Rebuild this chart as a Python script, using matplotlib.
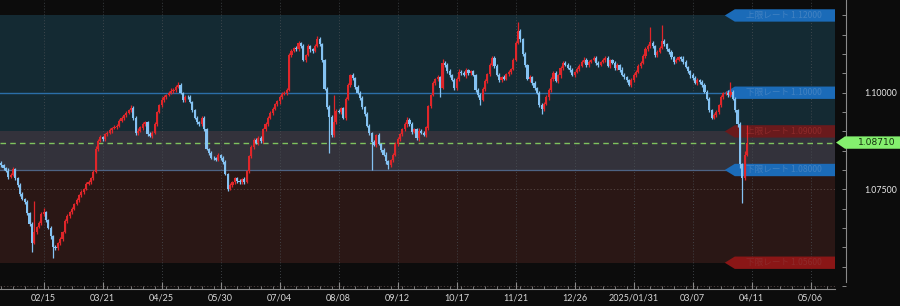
import matplotlib
matplotlib.use("Agg")
import matplotlib.pyplot as plt
import matplotlib.transforms as mtransforms
from matplotlib.patches import Polygon
from matplotlib.ticker import MultipleLocator, FixedLocator, FuncFormatter
import numpy as np

# ---------------- data ----------------
# daily closes in 1/10000 units above 1.0000 (e.g. 813 -> 1.0813)
first_open = 818
close_pips = [
    813, 805, 798, 782, 788, 802, 778, 761, 738, 725,
    716, 688, 660, 612, 640, 652, 663, 685, 690, 670,
    650, 628, 600, 598, 610, 622, 640, 668, 680, 690,
    700, 712, 722, 735, 742, 750, 765, 770, 780, 795,
    855, 875, 885, 880, 892, 896, 903, 909, 912, 915,
    928, 935, 942, 948, 955, 960, 935, 895, 902, 910,
    918, 924, 892, 888, 896, 920, 950, 968, 982, 990,
    994, 1000, 1005, 1008, 1016, 1020, 1000, 982, 990, 988,
    976, 955, 935, 925, 918, 935, 905, 855, 845, 832,
    830, 826, 838, 832, 820, 790, 752, 760, 768, 778,
    772, 768, 776, 770, 798, 835, 860, 878, 870, 884,
    875, 905, 920, 935, 948, 958, 970, 978, 989, 996,
    1000, 1008, 1098, 1108, 1115, 1112, 1128, 1122, 1085, 1098,
    1120, 1112, 1108, 1122, 1140, 1125, 1085, 1010, 962, 938,
    890, 925, 952, 950, 960, 935, 985, 1020, 1045, 1038,
    1015, 1000, 986, 962, 945, 915, 895, 872, 865, 890,
    868, 852, 840, 822, 812, 825, 840, 868, 880, 892,
    905, 918, 930, 918, 898, 905, 882, 902, 897, 890,
    910, 965, 995, 1025, 1035, 1040, 1012, 1078, 1072, 1055,
    1045, 1033, 1012, 1035, 1054, 1050, 1045, 1058, 1050, 1055,
    1045, 1008, 994, 982, 1010, 1030, 1048, 1072, 1090, 1070,
    1046, 1033, 1040, 1036, 1048, 1054, 1062, 1085, 1130, 1160,
    1138, 1100, 1072, 1035, 1040, 1025, 1012, 1000, 968, 958,
    972, 988, 1007, 1035, 1052, 1030, 1045, 1064, 1078, 1072,
    1065, 1058, 1046, 1054, 1062, 1070, 1079, 1085, 1072, 1080,
    1085, 1090, 1078, 1072, 1080, 1085, 1090, 1070, 1084, 1078,
    1064, 1072, 1060, 1046, 1040, 1033, 1020, 1032, 1045, 1054,
    1070, 1078, 1095, 1112, 1122, 1130, 1120, 1098, 1105, 1116,
    1135, 1125, 1112, 1105, 1092, 1080, 1085, 1092, 1088, 1079,
    1066, 1055, 1045, 1038, 1025, 1032, 1028, 1020, 1002, 985,
    955, 935, 942, 950, 968, 988, 998, 1000, 994, 1002,
    985, 955, 918, 815, 778, 840, 871,
]
wick_up = [
    5, 3, 4, 6, 3, 5, 4, 3, 5, 4,
    3, 6, 4, 5, 80, 4, 6, 5, 12, 3,
    4, 5, 3, 6, 4, 5, 3, 4, 6, 5,
    4, 3, 5, 4, 6, 3, 5, 4, 3, 5,
    6, 4, 5, 3, 4, 6, 5, 3, 4, 5,
    4, 5, 3, 6, 4, 8, 5, 4, 6, 3,
    5, 4, 3, 6, 4, 5, 3, 4, 6, 5,
    4, 5, 6, 3, 5, 8, 4, 3, 5, 4,
    6, 3, 4, 5, 3, 6, 4, 5, 3, 4,
    5, 4, 6, 3, 4, 5, 3, 6, 4, 5,
    3, 5, 4, 6, 3, 4, 5, 6, 4, 3,
    5, 4, 3, 6, 4, 5, 3, 4, 6, 5,
    4, 3, 6, 5, 4, 5, 6, 4, 5, 3,
    6, 4, 5, 3, 6, 4, 5, 3, 4, 5,
    4, 70, 5, 6, 3, 4, 5, 6, 4, 5,
    3, 5, 4, 6, 3, 4, 5, 3, 6, 4,
    5, 3, 4, 6, 5, 4, 3, 5, 6, 4,
    3, 5, 6, 4, 5, 3, 4, 6, 5, 4,
    5, 4, 3, 6, 4, 5, 3, 8, 4, 5,
    6, 3, 4, 5, 8, 4, 5, 6, 3, 4,
    5, 4, 3, 6, 4, 5, 3, 4, 6, 5,
    4, 5, 3, 6, 4, 5, 3, 6, 5, 23,
    5, 4, 6, 3, 5, 4, 6, 3, 4, 5,
    3, 5, 4, 6, 3, 5, 4, 6, 5, 3,
    4, 6, 5, 3, 4, 5, 6, 8, 4, 5,
    3, 6, 4, 5, 3, 4, 6, 5, 3, 4,
    5, 4, 3, 6, 5, 4, 3, 5, 6, 4,
    5, 3, 4, 6, 5, 40, 4, 3, 5, 6,
    40, 4, 5, 3, 6, 4, 5, 3, 4, 6,
    5, 4, 3, 6, 4, 5, 3, 4, 5, 6,
    4, 3, 5, 6, 4, 5, 3, 4, 6, 26,
    4, 5, 3, 6, 4, 8, 45,
]
wick_dn = [
    4, 5, 3, 6, 4, 3, 5, 4, 6, 3,
    5, 4, 6, 24, 4, 5, 3, 6, 4, 5,
    3, 6, 28, 4, 5, 3, 6, 4, 5, 3,
    5, 4, 3, 6, 4, 5, 3, 4, 6, 5,
    4, 5, 3, 6, 4, 5, 3, 6, 4, 5,
    3, 4, 6, 5, 3, 4, 6, 5, 4, 3,
    6, 4, 5, 3, 6, 4, 5, 3, 4, 6,
    5, 3, 4, 6, 5, 4, 3, 6, 5, 4,
    3, 5, 4, 6, 3, 4, 5, 3, 6, 4,
    5, 3, 4, 6, 5, 4, 6, 3, 5, 4,
    6, 4, 3, 5, 4, 6, 3, 5, 4, 6,
    4, 5, 3, 6, 4, 5, 3, 4, 6, 5,
    3, 5, 4, 6, 3, 4, 5, 6, 4, 5,
    4, 6, 5, 3, 4, 5, 6, 3, 5, 94,
    5, 4, 6, 3, 5, 4, 6, 3, 4, 5,
    6, 3, 5, 4, 6, 3, 5, 72, 4, 6,
    3, 5, 4, 6, 10, 4, 5, 3, 6, 4,
    5, 3, 6, 4, 5, 3, 4, 6, 5, 3,
    4, 6, 5, 3, 4, 5, 24, 3, 6, 4,
    5, 3, 4, 6, 5, 4, 3, 6, 5, 4,
    3, 5, 4, 14, 3, 5, 4, 6, 3, 5,
    4, 6, 5, 3, 4, 5, 6, 3, 4, 5,
    6, 4, 5, 3, 6, 4, 5, 3, 4, 13,
    5, 3, 6, 4, 5, 3, 4, 6, 5, 4,
    3, 5, 4, 6, 3, 5, 4, 3, 6, 5,
    4, 3, 5, 6, 4, 3, 5, 4, 6, 3,
    5, 4, 6, 3, 5, 4, 3, 6, 4, 5,
    3, 5, 4, 6, 3, 5, 4, 6, 5, 3,
    4, 5, 3, 6, 4, 5, 3, 4, 6, 5,
    3, 4, 6, 5, 3, 4, 5, 6, 4, 3,
    5, 4, 3, 6, 4, 5, 3, 4, 6, 5,
    4, 5, 6, 10, 64, 5, 4,
]
date_labels = ["02/15", "03/21", "04/25", "05/30", "07/04", "08/08", "09/12",
               "10/17", "11/21", "12/26", "2025/01/31", "03/07", "04/11", "05/06"]
first_label_bar = 18
bars_per_label = 25
bars_per_minor = 5
total_slots = 353.3

blue_levels = [1.12000, 1.10000, 1.08000]
blue_texts = ["上限レート 1.12000", "下限レート 1.10000", "下限レート 1.08000"]
red_levels = [1.09000, 1.05600]
red_texts = ["上限レート 1.09000", "下限レート 1.05600"]
current_rate = 1.08710
mid_line_rate = 1.10000

# zones
teal_zone = (1.09000, 1.12000)
grey_zone = (1.08000, 1.09000)
red_zone = (1.05600, 1.08000)

y_min, y_max = 1.0492, 1.1240

# ---------------- prepare ----------------
closes = 1.0 + np.array(close_pips) / 1e4
opens = np.concatenate([[1.0 + first_open / 1e4], closes[:-1]])
highs = np.maximum(opens, closes) + np.array(wick_up) / 1e4
lows = np.minimum(opens, closes) - np.array(wick_dn) / 1e4
idx = np.arange(len(closes))
up = closes >= opens

BG = "#0c0c0c"
RED = "#e0262a"
BLUE = "#84c2f2"

plt.rcParams['font.family'] = ['Lato', 'Noto Sans CJK JP', 'DejaVu Sans']

fig = plt.figure(figsize=(9.0, 3.06), dpi=100, facecolor=BG)
ax = fig.add_axes([0.0, 17 / 306, 835 / 900, 289 / 306])
ax.set_facecolor(BG)
ax.set_xlim(-0.5, total_slots)
ax.set_ylim(y_min, y_max)

# zones
ax.axhspan(*teal_zone, color="#142a33", lw=0, zorder=0)
ax.axhspan(*grey_zone, color="#33323b", lw=0, zorder=0)
ax.axhspan(*red_zone, color="#2a1715", lw=0, zorder=0)

# grid
major_x = [first_label_bar + bars_per_label * k for k in range(len(date_labels))]
for xv in major_x:
    ax.axvline(xv, color="#4a5055", lw=0.6, ls=(0, (1, 2.5)), zorder=1)
for yv in [1.075, 1.05]:
    ax.axhline(yv, color="#5a4a48", lw=0.6, ls=(0, (1.5, 2.5)), zorder=1)

# reference lines
ax.axhline(mid_line_rate, color="#2b6ea8", lw=1.0, zorder=2)
ax.axhline(grey_zone[0], color="#4e6384", lw=0.9, zorder=2)
ax.axhline(current_rate, color="#7fc25e", lw=1.0, ls=(0, (4, 3)), zorder=2)

# tags on the right of the plot
trans = mtransforms.blended_transform_factory(ax.transAxes, ax.transData)
h = 0.0016
tip_x, body_x = 0.868, 0.880
cjk = ['Noto Sans CJK JP', 'DejaVu Sans']
for lv, tx in zip(blue_levels, blue_texts):
    poly = Polygon([(tip_x, lv), (body_x, lv + h), (1.0, lv + h), (1.0, lv - h), (body_x, lv - h)],
                   closed=True, transform=trans, facecolor="#1b6bb8", edgecolor="none", zorder=3)
    ax.add_patch(poly)
    ax.text(0.893, lv, tx, transform=trans, color="#4282c2", fontsize=6.2, va="center", ha="left",
            family=cjk, zorder=3.5)
for lv, tx, col in zip(red_levels, red_texts, ["#6a1a1c", "#8a1616"]):
    poly = Polygon([(tip_x, lv), (body_x, lv + h), (1.0, lv + h), (1.0, lv - h), (body_x, lv - h)],
                   closed=True, transform=trans, facecolor=col, edgecolor="none", zorder=3)
    ax.add_patch(poly)
    ax.text(0.893, lv, tx, transform=trans, color="#8e2a2a", fontsize=6.2, va="center", ha="left",
            family=cjk, zorder=3.5)

# candles
colors = np.where(up, RED, BLUE)
ax.vlines(idx, lows, highs, colors=colors, lw=0.9, zorder=4)
body_h = np.maximum(np.abs(closes - opens), 0.00012)
ax.bar(idx, body_h, bottom=np.minimum(opens, closes), width=0.9, color=colors,
       lw=0, zorder=5)

# axes styling
for s in ["top", "left"]:
    ax.spines[s].set_visible(False)
ax.spines["bottom"].set_color("#8a8a8a")
ax.spines["bottom"].set_linewidth(0.8)
ax.spines["right"].set_position(("outward", 8))
ax.spines["right"].set_color("#8a8a8a")
ax.spines["right"].set_linewidth(0.8)
ax.spines["right"].set_bounds(1.051, y_max)

ax.xaxis.set_major_locator(FixedLocator(major_x))
ax.xaxis.set_minor_locator(MultipleLocator(bars_per_minor))
ax.set_xticklabels(date_labels)
ax.tick_params(axis="x", which="major", direction="in", length=5, width=0.8, color="#8a8a8a",
               labelcolor="#d8d8d8", labelsize=6.5, pad=3)
ax.tick_params(axis="x", which="minor", direction="in", length=2.5, width=0.6, color="#8a8a8a")

ax.yaxis.tick_right()
ax.yaxis.set_major_locator(FixedLocator([1.075, 1.10]))
ax.yaxis.set_minor_locator(MultipleLocator(0.005))
ax.yaxis.set_major_formatter(FuncFormatter(lambda v, p: f"{v:.5f}"))
ax.tick_params(axis="y", which="both", direction="in", length=3.2, width=0.7, color="#8a8a8a",
               labelcolor="#e8e8e8", labelsize=6.3, pad=13)

# current price tag on the right axis
ftrans = mtransforms.blended_transform_factory(fig.transFigure, ax.transData)
hh = 0.0016
gp = Polygon([(836 / 900, current_rate), (845 / 900, current_rate + hh), (1.0, current_rate + hh),
              (1.0, current_rate - hh), (845 / 900, current_rate - hh)], closed=True,
             transform=ftrans, facecolor="#84f06e", edgecolor="none", clip_on=False, zorder=6)
fig.patches.append(gp)
fig.text(877 / 900, current_rate, f"{current_rate:.5f}", transform=ftrans, color="#15300f",
         fontsize=6.6, ha="center", va="center", zorder=7, family=['DejaVu Sans'])

fig.savefig("out.png", dpi=100, facecolor=BG)
